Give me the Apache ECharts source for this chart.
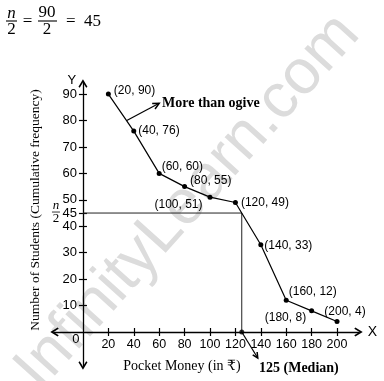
<!DOCTYPE html>
<html><head><meta charset="utf-8">
<script src="https://cdn.jsdelivr.net/npm/echarts@6/dist/echarts.min.js"></script>
<style>html,body{margin:0;padding:0;background:#fff}#c{width:384px;height:381px}</style>
</head><body><div id="c"></div>
<script>
// ---- data ----
const pocketMoney = [20, 40, 60, 80, 100, 120, 140, 160, 180, 200];
const cumFreq = [90, 76, 60, 55, 51, 49, 33, 12, 8, 4];
const xTicks = [20, 40, 60, 80, 100, 120, 140, 160, 180, 200];
const yTicks = [10, 20, 30, 40, 45, 50, 60, 70, 80, 90];
const halfN = 45;
const medianValue = 125;
const totalN = 90;

// ---- style (label placement per point) ----
const labelPlace = [
  {position: 'right', offset: [-2, -3]},
  {position: 'right', offset: [-3, 0]},
  {position: 'right', offset: [-5, -7]},
  {position: 'right', offset: [-2, -6]},
  {position: 'left', offset: [0, 8]},
  {position: 'right', offset: [-2, 0]},
  {position: 'right', offset: [-4, 1]},
  {position: 'right', offset: [-5, -9]},
  {position: 'left', offset: [2, 7]},
  {position: 'top', offset: [8, 4]}
];

const SANS = '"Liberation Sans", Arial, sans-serif';
const SERIF = '"Liberation Serif", "DejaVu Serif", serif';
const arrowPath = 'path://M5,0 L10,8.2 L8.6,9.4 L5,3.6 L1.4,9.4 L0,8.2 Z';

const W = 384, H = 381;
const G = {left: 54.5, right: 25.5, top: 83.5, bottom: 15.5};
const X_MIN = -22.4, X_MAX = 216.9, Y_MIN = -12.67, Y_MAX = 94.0;
const gw = W - G.left - G.right, gh = H - G.top - G.bottom;
const zeroX = gw * (0 - X_MIN) / (X_MAX - X_MIN);   // distance from grid left
const zeroY = gh * (0 - Y_MIN) / (Y_MAX - Y_MIN);   // distance from grid bottom

const chart = echarts.init(document.getElementById('c'), null, {renderer: 'canvas'});

const lineData = pocketMoney.map((x, i) => ({
  value: [x, cumFreq[i]],
  label: Object.assign({show: true}, labelPlace[i])
}));

const tickStyle = {color: '#000', width: 1.2};

chart.setOption({
  animation: false,
  grid: Object.assign({containLabel: false, outerBoundsMode: 'none'}, G),
  xAxis: [
    {
      type: 'value', min: X_MIN, max: X_MAX, position: 'bottom', offset: -zeroY,
      axisLine: {onZero: false, symbol: [arrowPath, arrowPath], symbolSize: [9, 9], lineStyle: {color: '#000', width: 1.3}},
      axisTick: {customValues: xTicks, length: 4, lineStyle: tickStyle},
      axisLabel: {customValues: xTicks, color: '#000', fontSize: 12.5, margin: 6, fontFamily: SANS},
      splitLine: {show: false}
    },
    {
      type: 'value', min: X_MIN, max: X_MAX, position: 'top', offset: -(gh - zeroY),
      axisLine: {show: false, onZero: false},
      axisTick: {customValues: xTicks, length: 4, lineStyle: tickStyle},
      axisLabel: {show: false}, splitLine: {show: false}
    }
  ],
  yAxis: [
    {
      type: 'value', min: Y_MIN, max: Y_MAX, position: 'left', offset: -zeroX,
      axisLine: {onZero: false, symbol: [arrowPath, arrowPath], symbolSize: [9, 9], lineStyle: {color: '#000', width: 1.3}},
      axisTick: {customValues: yTicks, length: 4, lineStyle: tickStyle},
      axisLabel: {customValues: yTicks, color: '#000', fontSize: 13, margin: 6, fontFamily: SANS},
      splitLine: {show: false}
    },
    {
      type: 'value', min: Y_MIN, max: Y_MAX, position: 'right', offset: -(gw - zeroX),
      axisLine: {show: false, onZero: false},
      axisTick: {customValues: yTicks, length: 4, lineStyle: tickStyle},
      axisLabel: {show: false}, splitLine: {show: false}
    }
  ],
  series: [
    {
      type: 'line', xAxisIndex: 0, yAxisIndex: 0, z: 3,
      data: [[0, halfN], [medianValue, halfN], [medianValue, 0]],
      symbol: 'none', lineStyle: {color: '#222', width: 1}, silent: true
    },
    {
      type: 'scatter', xAxisIndex: 0, yAxisIndex: 0, z: 4,
      data: [[medianValue, 0]], symbol: 'circle', symbolSize: 5,
      itemStyle: {color: '#000'}
    },
    {
      type: 'line', xAxisIndex: 0, yAxisIndex: 0, z: 5,
      data: lineData,
      symbol: 'circle', symbolSize: 5, showAllSymbol: true,
      itemStyle: {color: '#000'},
      lineStyle: {color: '#000', width: 1.2},
      label: {
        color: '#000', fontSize: 12, fontFamily: SANS, distance: 5,
        formatter: p => '(' + p.value[0] + ', ' + p.value[1] + ')'
      }
    }
  ]
});

function px(x, y) { return chart.convertToPixel({xAxisIndex: 0, yAxisIndex: 0}, [x, y]); }

function arrowEls(x1, y1, x2, y2, head) {
  const ang = Math.atan2(y2 - y1, x2 - x1);
  const a1 = ang + Math.PI - 0.45, a2 = ang + Math.PI + 0.45;
  return [
    {type: 'line', shape: {x1, y1, x2, y2}, style: {stroke: '#000', lineWidth: 1.2}, z: 10},
    {type: 'polyline', shape: {points: [
      [x2 + head * Math.cos(a1), y2 + head * Math.sin(a1)], [x2, y2],
      [x2 + head * Math.cos(a2), y2 + head * Math.sin(a2)]
    ]}, style: {stroke: '#000', lineWidth: 1.5, fill: null}, z: 10}
  ];
}

const o = px(0, 0);
const p45 = px(0, halfN);
const med0 = px(medianValue, 0);
const ogA = px(34.5, 80);
const ogB = px(60, 86.5);
const yTop = px(0, Y_MAX);
const xEnd = px(X_MAX, 0);

const g = [];
// watermark
g.push({type: 'text', x: 188, y: 202, rotation: 48 * Math.PI / 180, z: 0, silent: true,
  style: {text: 'InfinityLearn.com', font: '63px ' + SANS, fill: '#dcdcdc', align: 'center', verticalAlign: 'middle'}});
// title n/2 = 90/2 = 45
g.push({type: 'text', x: 11.5, y: 14, z: 10, style: {text: 'n', font: 'italic 17px ' + SERIF, fill: '#000', align: 'center', verticalAlign: 'middle'}});
g.push({type: 'line', shape: {x1: 6, y1: 21, x2: 17, y2: 21}, style: {stroke: '#000', lineWidth: 1.1}, z: 10});
g.push({type: 'text', x: 11.5, y: 30, z: 10, style: {text: '2', font: '17px ' + SERIF, fill: '#000', align: 'center', verticalAlign: 'middle'}});
g.push({type: 'text', x: 27.5, y: 22, z: 10, style: {text: '=', font: '17px ' + SERIF, fill: '#000', align: 'center', verticalAlign: 'middle'}});
g.push({type: 'text', x: 47, y: 13, z: 10, style: {text: String(totalN), font: '17px ' + SERIF, fill: '#000', align: 'center', verticalAlign: 'middle'}});
g.push({type: 'line', shape: {x1: 38, y1: 21, x2: 57, y2: 21}, style: {stroke: '#000', lineWidth: 1.1}, z: 10});
g.push({type: 'text', x: 47, y: 30, z: 10, style: {text: '2', font: '17px ' + SERIF, fill: '#000', align: 'center', verticalAlign: 'middle'}});
g.push({type: 'text', x: 66, y: 22, z: 10, style: {text: '=  ' + String(halfN), font: '17px ' + SERIF, fill: '#000', align: 'left', verticalAlign: 'middle'}});
// n/2 at 45 on y axis
g.push({type: 'text', x: p45[0] - 27, y: p45[1] - 7, z: 10, style: {text: 'n', font: 'italic 13px ' + SERIF, fill: '#000', align: 'center', verticalAlign: 'middle'}});
g.push({type: 'line', shape: {x1: p45[0] - 31, y1: p45[1] - 1, x2: p45[0] - 23, y2: p45[1] - 1}, style: {stroke: '#000', lineWidth: 0.8}, z: 10});
g.push({type: 'text', x: p45[0] - 27, y: p45[1] + 6, z: 10, style: {text: '2', font: '13px ' + SERIF, fill: '#000', align: 'center', verticalAlign: 'middle'}});
// origin 0
g.push({type: 'text', x: o[0] - 7, y: o[1] + 7, z: 10, style: {text: '0', font: '13px ' + SANS, fill: '#000', align: 'center', verticalAlign: 'middle'}});
// axis letters
g.push({type: 'text', x: yTop[0] - 11, y: yTop[1] - 3, z: 10, style: {text: 'Y', font: '13px ' + SANS, fill: '#000', align: 'center', verticalAlign: 'middle'}});
g.push({type: 'text', x: xEnd[0] + 14, y: xEnd[1], z: 10, style: {text: 'X', font: '14px ' + SANS, fill: '#000', align: 'center', verticalAlign: 'middle'}});
// axis names
g.push({type: 'text', x: 35, y: 210, rotation: Math.PI / 2, z: 10, style: {text: 'Number of Students (Cumulative frequency)', font: '13.5px ' + SERIF, fill: '#000', align: 'center', verticalAlign: 'middle'}});
g.push({type: 'text', x: 182, y: 366, z: 10, style: {text: 'Pocket Money (in \u20B9)', font: '14px ' + SERIF, fill: '#000', align: 'center', verticalAlign: 'middle'}});
// median annotation
g.push(...arrowEls(med0[0], med0[1], med0[0] + 16, med0[1] + 26, 6));
g.push({type: 'text', x: 259, y: 368, z: 10, style: {text: medianValue + ' (Median)', font: 'bold 14px ' + SERIF, fill: '#000', align: 'left', verticalAlign: 'middle'}});
// ogive annotation
g.push(...arrowEls(ogA[0], ogA[1], ogB[0], ogB[1], 7));
g.push({type: 'text', x: 162, y: 103, z: 10, style: {text: 'More than ogive', font: 'bold 14px ' + SERIF, fill: '#000', align: 'left', verticalAlign: 'middle'}});

chart.setOption({graphic: g});
</script>
</body></html>
